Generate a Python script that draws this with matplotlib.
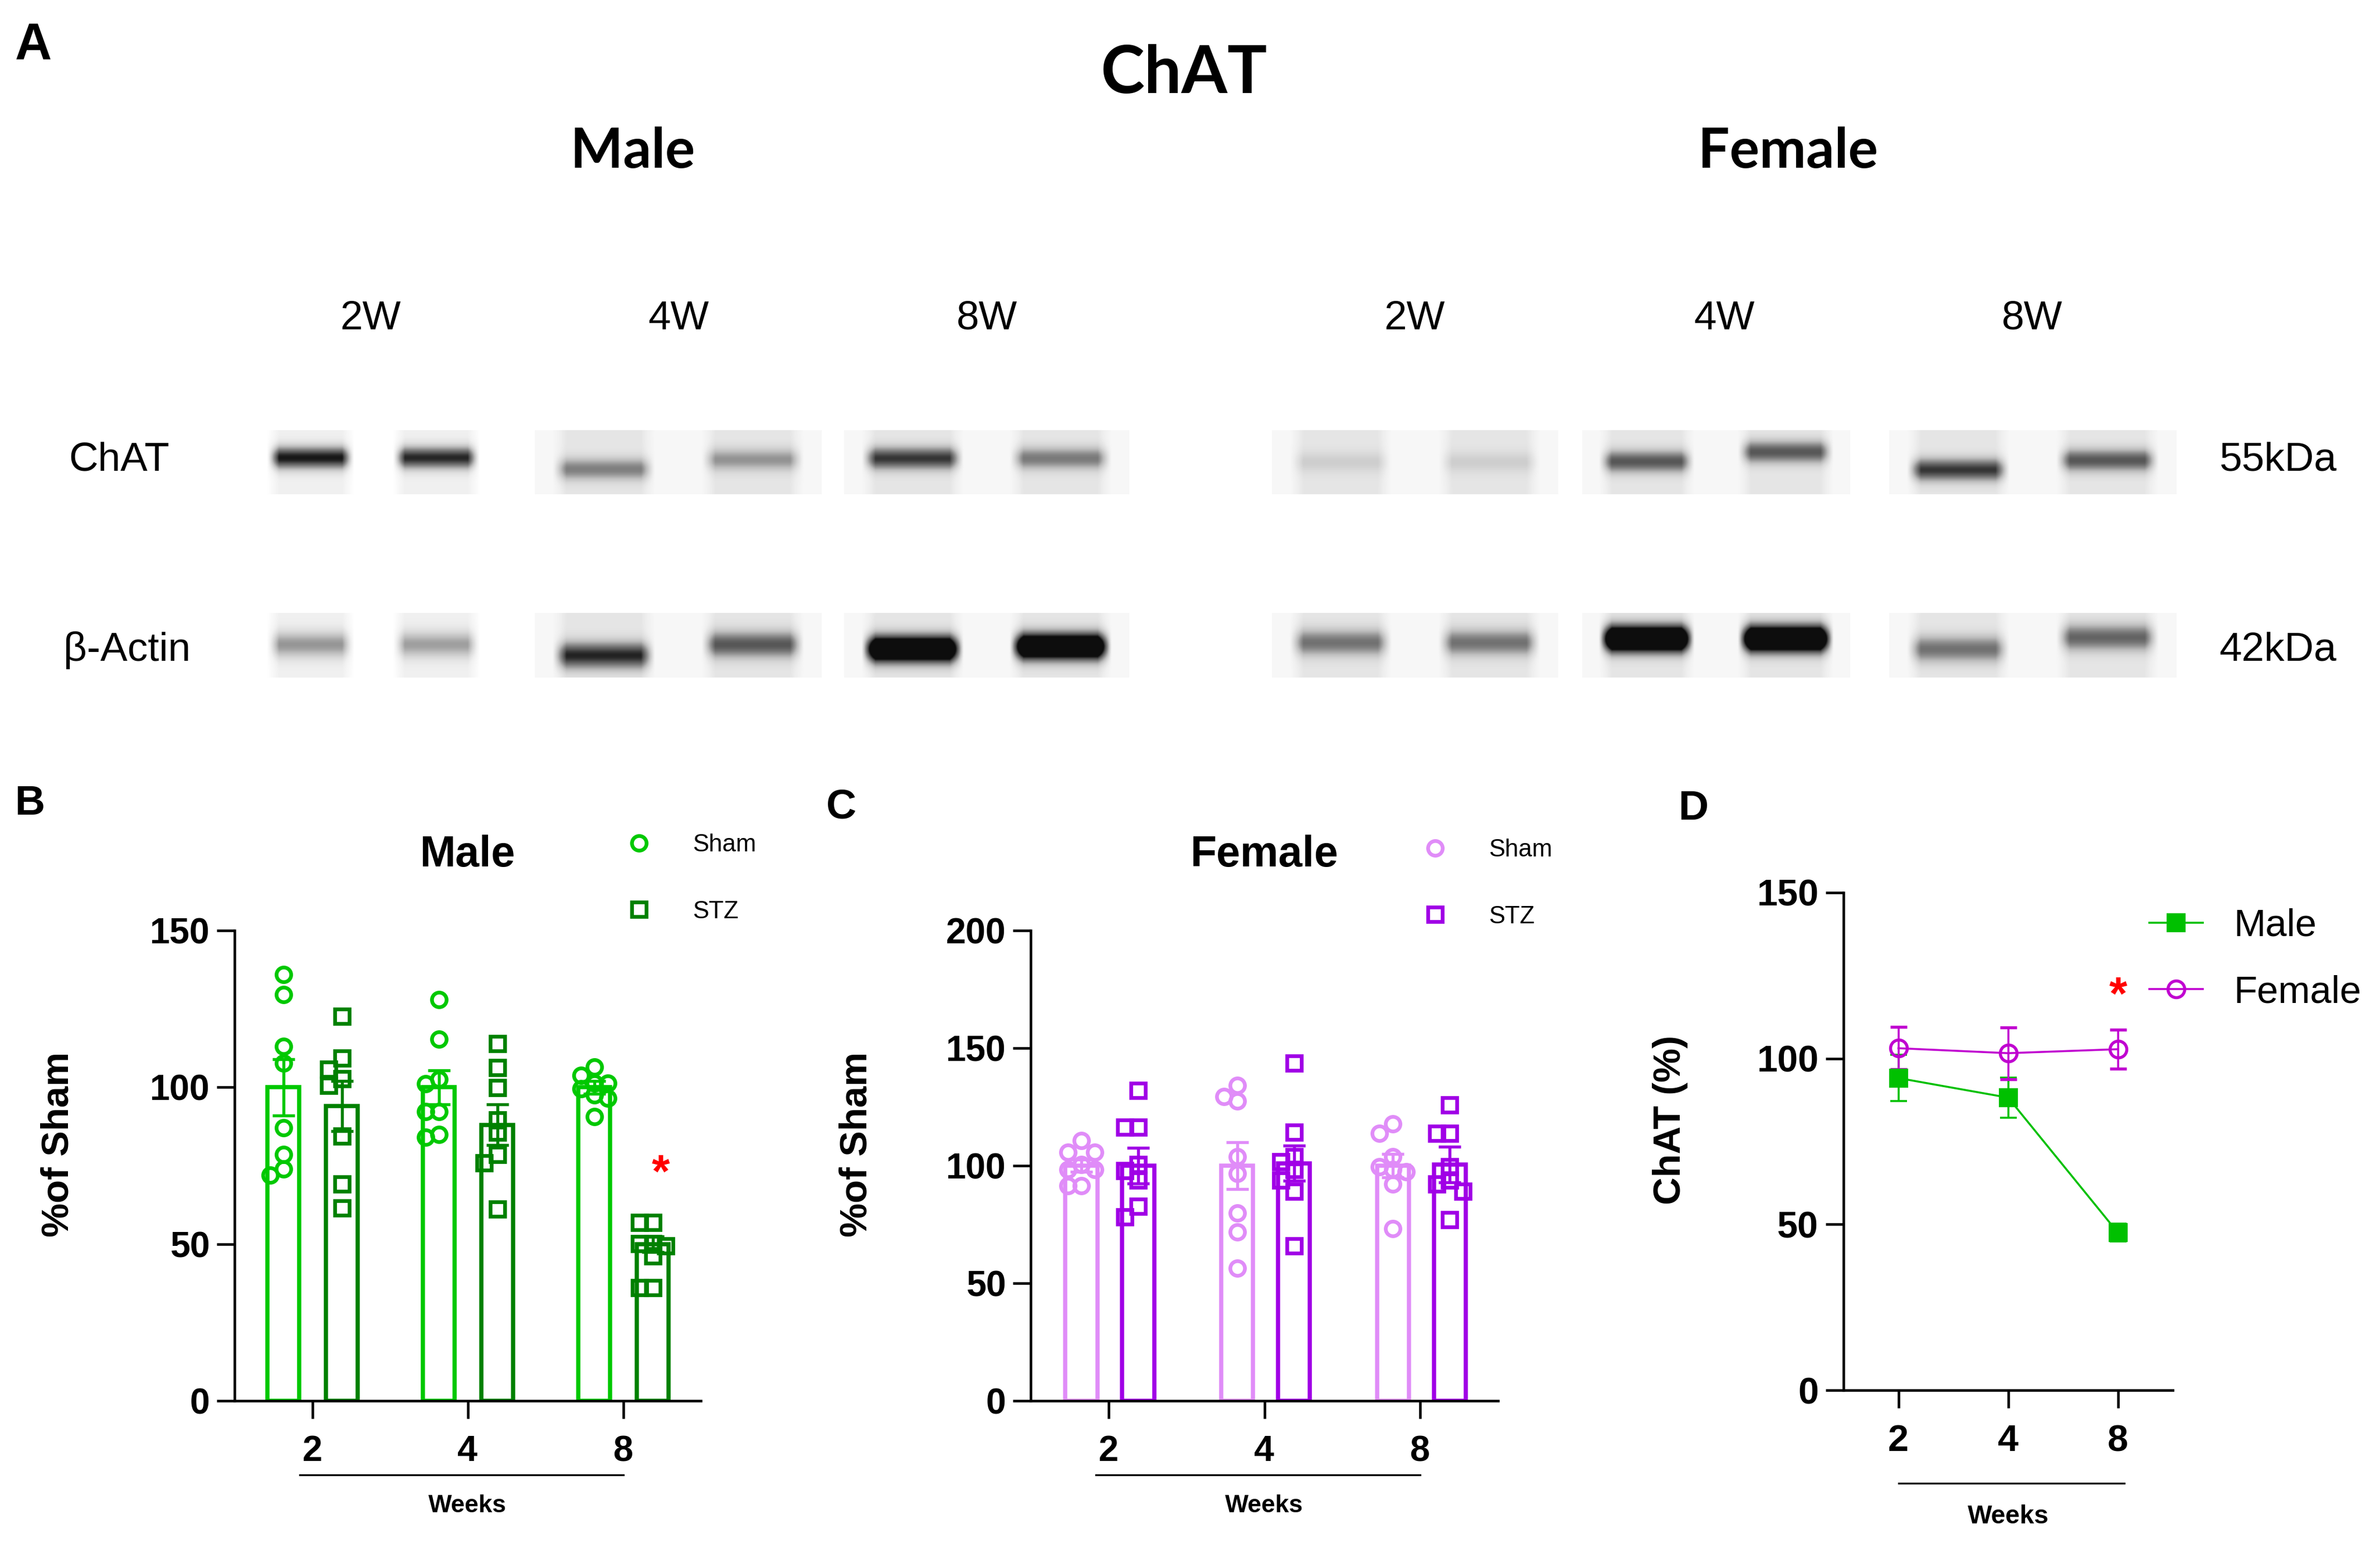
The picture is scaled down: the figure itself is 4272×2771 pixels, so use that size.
import numpy as np
import matplotlib
matplotlib.use("Agg")
import matplotlib.pyplot as plt
from matplotlib.lines import Line2D
from matplotlib.transforms import blended_transform_factory

plt.rcParams['font.family'] = ['Liberation Sans', 'DejaVu Sans']

W, H, DPI = 4272, 2771, 300

weeks = ['2', '4', '8']
lane_labels = ['2W', '4W', '8W']

# B: male, % of sham, one value per animal
male_sham = [
    [136, 129.5, 113, 107.7, 87, 78.5, 74, 72],
    [128, 115.3, 102.5, 101.1, 92.3, 92.3, 84.9, 84],
    [106.5, 103.8, 101.3, 101.3, 99.5, 97.5, 96.5, 90.7],
]
male_stz = [
    [122.7, 109.3, 105.7, 102.7, 100.6, 84.5, 69.1, 61.5],
    [113.9, 106.2, 99.8, 89.6, 85.6, 78.5, 75.9, 61.2],
    [56.8, 56.8, 50.2, 50.2, 49.4, 46.2, 36, 36],
]
male_sham_mean = [100, 100, 100]
male_sham_sem = [9, 5.4, 2]
male_stz_mean = [94, 88, 50]
male_stz_sem = [8, 6.5, 2.5]

# C: female
female_sham = [
    [110.6, 105.8, 105.8, 100.5, 98.4, 98.4, 91.5, 91.5],
    [134.2, 129.3, 127.4, 103.7, 96.7, 79.9, 71.7, 56.4],
    [117.8, 113.8, 103.7, 99.5, 98.4, 97.4, 92.1, 73.2],
]
female_stz = [
    [132, 116.3, 116.3, 100.5, 97.8, 93.8, 82.6, 78.2],
    [143.6, 114.2, 103.7, 101.6, 98.4, 93.8, 89, 65.8],
    [125.8, 113.8, 113.8, 99.5, 93.8, 92.1, 89, 77],
]
female_sham_mean = [100, 100, 100]
female_sham_sem = [2.5, 10, 5]
female_stz_mean = [100, 101, 100.5]
female_stz_sem = [7.5, 7.5, 7.5]

# D: ChAT (%) over time
d_male = [94.1, 88.2, 47.5]
d_male_sem = [7, 6, 2.7]
d_female = [103.1, 101.6, 102.8]
d_female_sem = [6.4, 7.8, 5.8]

# A: band darkness per lane (0 = none, >1 saturated)
chat_male = [[0.8, 0.75], [0.4, 0.33], [0.65, 0.42]]
chat_female = [[0.12, 0.12], [0.55, 0.55], [0.65, 0.55]]
actin_male = [[0.38, 0.35], [0.7, 0.55], [1.4, 1.4]]
actin_female = [[0.45, 0.45], [1.5, 1.5], [0.45, 0.5]]

c_msham, c_mstz = '#00C800', '#008000'
c_fsham, c_fstz = '#E08CF8', '#A000E6'
c_dmale, c_dfem = '#00C000', '#C000D0'

fig = plt.figure(figsize=(W / DPI, H / DPI), dpi=DPI)

# pixel-coordinate overlay for the blot panel and free text
top = fig.add_axes([0, 0, 1, 1])
top.set_zorder(-1)


def blot(x0, x1, y0, y1, dark, centers, bg=0.05, sigma=0.11):
    nx, ny = int(x1 - x0), int(y1 - y0)
    xx = np.linspace(0, 1, nx)[None, :]
    yy = np.linspace(0, 1, ny)[:, None]
    img = np.full((ny, nx), bg)
    for lc, d, yc in zip([0.24, 0.76], dark, centers):
        lane = np.clip((0.18 - np.abs(xx - lc)) / 0.05, 0, 1)
        band = d * np.exp(-((yy - yc) / sigma) ** 2)
        img = img + lane * (0.12 + band)
    top.imshow(np.clip(img, 0, 0.95), cmap='Greys', vmin=0, vmax=1,
               extent=(x0, x1, y1, y0), aspect='auto', interpolation='bilinear')


male_x = [(453, 888), (960, 1475), (1515, 2027)]
female_x = [(2283, 2797), (2840, 3321), (3391, 3907)]
chat_y, actin_y = (772, 887), (1100, 1216)
chat_c_m = [[0.43, 0.43], [0.61, 0.46], [0.44, 0.44]]
chat_c_f = [[0.50, 0.50], [0.49, 0.34], [0.62, 0.47]]
actin_c_m = [[0.49, 0.49], [0.66, 0.49], [0.56, 0.52]]
actin_c_f = [[0.46, 0.46], [0.40, 0.40], [0.56, 0.38]]

for i in range(3):
    bgm = 0.0 if i == 0 else 0.06
    blot(*male_x[i], *chat_y, chat_male[i], chat_c_m[i], bg=bgm, sigma=0.17)
    blot(*male_x[i], *actin_y, actin_male[i], actin_c_m[i], bg=bgm, sigma=0.2)
    blot(*female_x[i], *chat_y, chat_female[i], chat_c_f[i], bg=0.06, sigma=0.17)
    blot(*female_x[i], *actin_y, actin_female[i], actin_c_f[i], bg=0.06, sigma=0.2)

top.set_xlim(0, W)
top.set_ylim(H, 0)
top.axis('off')

top.text(60, 82, 'A', fontsize=22, fontweight='bold', ha='center', va='center')
top.text(2125, 133, 'ChAT', family=['Lato', 'DejaVu Sans'], fontsize=28.5,
         fontweight='bold', ha='center', va='center')
top.text(1136, 272, 'Male', family=['Lato', 'DejaVu Sans'], fontsize=24,
         fontweight='bold', ha='center', va='center')
top.text(3209, 272, 'Female', family=['Lato', 'DejaVu Sans'], fontsize=24,
         fontweight='bold', ha='center', va='center')
for xc, lab in zip([665, 1218, 1771, 2539, 3095, 3648], lane_labels * 2):
    top.text(xc, 572, lab, fontsize=17.5, ha='center', va='center')
top.text(123, 826, 'ChAT', fontsize=17.5, ha='left', va='center')
top.text(114, 1167, 'β-Actin', fontsize=17.5, ha='left', va='center')
top.text(3983, 826, '55kDa', fontsize=17.5, ha='left', va='center')
top.text(3983, 1167, '42kDa', fontsize=17.5, ha='left', va='center')
top.text(54, 1442, 'B', fontsize=18, fontweight='bold', ha='center', va='center')
top.text(1510, 1449, 'C', fontsize=18, fontweight='bold', ha='center', va='center')
top.text(3040, 1451, 'D', fontsize=18, fontweight='bold', ha='center', va='center')


def px_axes(l, r, t, b):
    return fig.add_axes([l / W, 1 - b / H, (r - l) / W, (b - t) / H])


def style(ax, ymax, ystep, size):
    for s in ['top', 'right']:
        ax.spines[s].set_visible(False)
    for s in ['left', 'bottom']:
        ax.spines[s].set_linewidth(1.1)
    ax.set_xlim(-0.5, 2.5)
    ax.set_ylim(0, ymax)
    ax.set_yticks(np.arange(0, ymax + 1, ystep))
    ax.set_xticks(range(3))
    ax.set_xticklabels(weeks)
    ax.tick_params(length=7.7, width=1.1, labelsize=size, pad=3)
    ax.tick_params(axis='x', pad=7)
    for lab in ax.get_xticklabels() + ax.get_yticklabels():
        lab.set_fontweight('bold')
    ax.patch.set_visible(False)


def swarm(xc, vals, yppu, xppu=280, step=0.085, dmin=22):
    placed, xs = [], []
    for v in vals:
        best, best_d = xc, -1
        for k in [0, -1, 1]:
            xo = xc + k * step
            d = min([np.hypot((xo - p) * xppu, (v - q) * yppu) for p, q in placed] or [1e9])
            if d >= dmin:
                best = xo
                break
            if d > best_d:
                best, best_d = xo, d
        placed.append((best, v))
        xs.append(best)
    return xs


def bar_panel(ax, groups, yppu):
    x = np.arange(3)
    for off, m, e, pts, c, mk in groups:
        ax.bar(x + off, m, width=0.205, facecolor='white', edgecolor=c,
               linewidth=1.8, zorder=2)
        for xi, vals in zip(x + off, pts):
            ax.plot(swarm(xi, vals, yppu), vals, ls='none', marker=mk, ms=6.3,
                    mfc='none', mec=c, mew=1.6, zorder=3)
        ax.errorbar(x + off, m, yerr=e, fmt='none', ecolor=c, elinewidth=1.3,
                    capsize=4.9, capthick=1.3, zorder=4)


def weeks_axis(ax, line_y, text_y, x0, x1, fs):
    tr = blended_transform_factory(ax.transData, ax.transAxes)
    ax.plot([x0, x1], [line_y] * 2, transform=tr, color='black', lw=0.8, clip_on=False)
    ax.text(1.0, text_y, 'Weeks', transform=tr, ha='center', va='center',
            fontsize=fs, fontweight='bold')
    return tr


# B
axB = px_axes(421, 1258, 1670, 2514)
style(axB, 150, 50, 15.5)
bar_panel(axB, [(-0.185, male_sham_mean, male_sham_sem, male_sham, c_msham, 'o'),
                (0.19, male_stz_mean, male_stz_sem, male_stz, c_mstz, 's')], 844 / 150)
tr = weeks_axis(axB, -0.158, -0.223, -0.08, 2.0, 10.7)
axB.text(1.0, 1.16, 'Male', transform=tr, ha='center', va='center',
         fontsize=18.5, fontweight='bold')
axB.text(2.24, 72, '*', color='red', fontsize=20, fontweight='bold',
         ha='center', va='center')
axB.set_ylabel('%of Sham', fontsize=16.5, fontweight='bold')
axB.yaxis.set_label_coords(-0.34, 0.545)
hB = [Line2D([], [], ls='none', marker='o', ms=6.3, mfc='none', mec=c_msham, mew=1.6),
      Line2D([], [], ls='none', marker='s', ms=6.3, mfc='none', mec=c_mstz, mew=1.6)]
axB.legend(hB, ['Sham', 'STZ'], loc='upper left', bbox_to_anchor=(1125 / W, 1 - 1496 / H),
           bbox_transform=fig.transFigure, frameon=False, fontsize=10.5,
           handlelength=1.0, handletextpad=1.7, labelspacing=1.8,
           borderpad=0, borderaxespad=0)

# C
axC = px_axes(1850, 2689, 1670, 2514)
style(axC, 200, 50, 15.5)
bar_panel(axC, [(-0.175, female_sham_mean, female_sham_sem, female_sham, c_fsham, 'o'),
                (0.19, female_stz_mean, female_stz_sem, female_stz, c_fstz, 's')], 844 / 200)
tr = weeks_axis(axC, -0.158, -0.223, -0.08, 2.0, 10.7)
axC.text(1.0, 1.16, 'Female', transform=tr, ha='center', va='center',
         fontsize=18.5, fontweight='bold')
axC.set_ylabel('%of Sham', fontsize=16.5, fontweight='bold')
axC.yaxis.set_label_coords(-0.334, 0.545)
hC = [Line2D([], [], ls='none', marker='o', ms=6.3, mfc='none', mec=c_fsham, mew=1.6),
      Line2D([], [], ls='none', marker='s', ms=6.3, mfc='none', mec=c_fstz, mew=1.6)]
axC.legend(hC, ['Sham', 'STZ'], loc='upper left', bbox_to_anchor=(2554 / W, 1 - 1505 / H),
           bbox_transform=fig.transFigure, frameon=False, fontsize=10.5,
           handlelength=1.0, handletextpad=1.7, labelspacing=1.8,
           borderpad=0, borderaxespad=0)

# D
axD = px_axes(3309, 3900, 1602, 2495)
style(axD, 150, 50, 16)
x = np.arange(3)
axD.errorbar(x, d_male, yerr=d_male_sem, color=c_dmale, marker='s', ms=7,
             lw=0.85, elinewidth=0.85, capsize=3.6, capthick=0.85, clip_on=False)
axD.errorbar(x, d_female, yerr=d_female_sem, color=c_dfem, marker='o', ms=7.2,
             mfc='none', mew=1.3, lw=0.85, elinewidth=0.85, capsize=3.6,
             capthick=0.85, clip_on=False)
weeks_axis(axD, -0.187, -0.254, 0.0, 2.06, 11.1)
axD.text(2.0, 118.5, '*', color='red', fontsize=20, fontweight='bold',
         ha='center', va='center')
axD.set_ylabel('ChAT (%)', fontsize=16.5, fontweight='bold')
axD.yaxis.set_label_coords(-0.472, 0.543)
hD = [Line2D([], [], color=c_dmale, lw=0.85, marker='s', ms=7),
      Line2D([], [], color=c_dfem, lw=0.85, marker='o', ms=7.2, mfc='none', mew=1.3)]
axD.legend(hD, ['Male', 'Female'], loc='upper left', bbox_to_anchor=(3858 / W, 1 - 1630 / H),
           bbox_transform=fig.transFigure, frameon=False, fontsize=16.5,
           handlelength=1.4, handletextpad=0.8, labelspacing=0.8,
           borderpad=0, borderaxespad=0)

fig.savefig('out.png', dpi=DPI)
